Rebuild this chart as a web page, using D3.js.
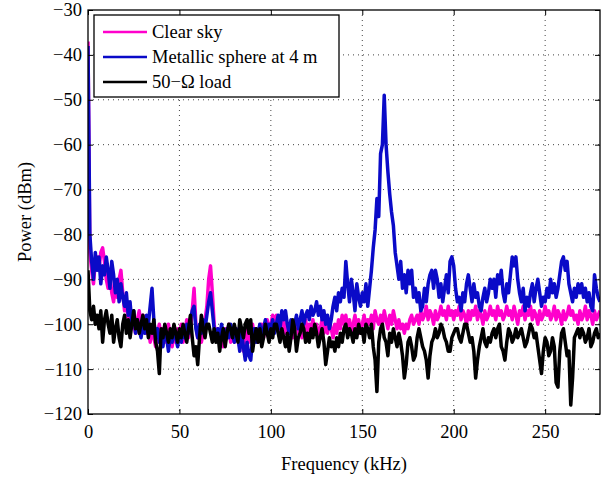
<!DOCTYPE html>
<html>
<head>
<meta charset="utf-8">
<script src="https://cdn.jsdelivr.net/npm/d3@7/dist/d3.min.js"></script>
<style>
  html, body { margin: 0; padding: 0; background: #fff; }
  svg { display: block; }
</style>
</head>
<body>
<svg id="chart" width="610" height="478"></svg>
<script>
// Spectrum samples, one value per kHz from 0 to 280 kHz (dBm)
const freqStep = 1;

const clearSky = [
  -37, -84, -88, -91, -86, -85, -88, -84, -83, -86,
  -90, -92, -89, -93, -95, -91, -94, -90, -88, -93,
  -97, -95, -99, -101, -98, -100, -102, -99, -97, -100,
  -98, -99, -102, -100, -104, -101, -103, -105, -102, -100,
  -103, -101, -104, -102, -100, -103, -105, -102, -104, -101,
  -103, -100, -104, -102, -99, -103, -101, -97, -92, -100,
  -103, -101, -104, -102, -99, -96, -90, -87, -93, -100,
  -103, -101, -104, -102, -105, -101, -103, -100, -104, -102,
  -104, -101, -103, -105, -102, -106, -103, -101, -104, -102,
  -100, -103, -101, -104, -102, -100, -103, -101, -99, -102,
  -100, -98, -101, -98, -100, -103, -101, -99, -102, -100,
  -102, -100, -103, -101, -99, -102, -100, -103, -101, -99,
  -102, -100, -101, -99, -102, -100, -103, -101, -99, -102,
  -100, -102, -99, -101, -103, -100, -102, -99, -101, -98,
  -100, -98, -101, -99, -102, -100, -98, -101, -99, -102,
  -100, -98, -101, -99, -100, -98, -101, -97, -99, -100,
  -98, -100, -97, -99, -101, -98, -100, -97, -99, -101,
  -99, -101, -100, -102, -100, -101, -99, -98, -100, -99,
  -98, -100, -97, -99, -98, -96, -99, -97, -98, -100,
  -97, -99, -98, -96, -98, -97, -99, -96, -98, -97,
  -99, -97, -98, -96, -99, -97, -98, -100, -97, -99,
  -97, -98, -96, -99, -97, -98, -100, -97, -99, -98,
  -96, -98, -97, -99, -96, -98, -97, -99, -98, -96,
  -98, -97, -99, -96, -98, -100, -97, -98, -96, -99,
  -97, -98, -96, -99, -97, -98, -100, -97, -99, -98,
  -96, -98, -97, -99, -98, -96, -99, -97, -98, -100,
  -97, -99, -98, -96, -98, -97, -99, -98, -100, -97,
  -99, -98, -96, -99, -97, -98, -100, -97, -99, -98,
  -97
];

const metallicSphere = [
  -38, -80, -86, -90, -84, -88, -85, -91, -87, -89,
  -85, -88, -92, -86, -89, -93, -90, -95, -91, -94,
  -96, -93, -98, -95, -100, -97, -102, -99, -101, -103,
  -100, -102, -98, -100, -96, -92, -99, -103, -101, -104,
  -102, -105, -101, -103, -106, -102, -104, -101, -103, -105,
  -102, -104, -101, -103, -100, -102, -99, -97, -96, -101,
  -103, -100, -102, -99, -101, -98, -95, -93, -97, -101,
  -103, -101, -104, -100, -102, -104, -101, -103, -100, -102,
  -104, -101, -103, -106, -102, -105, -108, -104, -107, -108,
  -103, -101, -104, -102, -100, -103, -101, -99, -102, -100,
  -101, -99, -102, -100, -98, -101, -97, -99, -97, -100,
  -102, -99, -101, -100, -98, -101, -99, -97, -100, -98,
  -97, -99, -96, -98, -97, -95, -98, -96, -99, -97,
  -100, -98, -101, -99, -96, -94, -97, -93, -95, -92,
  -94, -86, -91, -95, -90, -93, -97, -91, -94, -96,
  -93, -95, -91, -96, -92, -88, -83, -79, -72, -76,
  -62, -60, -49, -60, -66, -71, -75, -78, -84, -87,
  -90, -86, -92, -89, -93, -88, -91, -88, -94, -92,
  -95, -93, -97, -96, -92, -95, -91, -89, -88, -92,
  -88, -90, -94, -91, -95, -92, -89, -93, -86, -85,
  -87, -92, -95, -94, -97, -93, -95, -91, -89, -92,
  -95, -91, -94, -93, -96, -97, -94, -92, -95, -93,
  -90, -92, -90, -94, -89, -91, -88, -93, -95, -91,
  -93, -89, -85, -87, -85, -90, -93, -95, -92, -97,
  -94, -96, -93, -91, -95, -92, -90, -93, -96, -94,
  -95, -92, -94, -90, -93, -91, -94, -92, -89, -86,
  -85, -88, -86, -91, -93, -95, -92, -94, -91, -93,
  -91, -94, -92, -95, -93, -96, -97, -89, -92, -94,
  -95
];

const load50 = [
  -88, -97, -99, -96, -100, -98, -101, -97, -104, -99,
  -97, -100, -102, -98, -104, -101, -99, -103, -105, -100,
  -98, -102, -99, -103, -100, -97, -101, -99, -102, -100,
  -98, -101, -99, -103, -100, -102, -99, -104, -106, -111,
  -101, -103, -100, -102, -104, -101, -103, -100, -102, -104,
  -101, -103, -100, -102, -104, -101, -98, -103, -107, -105,
  -109, -103, -98, -101, -103, -100, -100, -102, -104, -101,
  -104, -102, -106, -103, -101, -105, -102, -100, -101, -103,
  -100, -102, -104, -99, -101, -103, -100, -99, -102, -99,
  -106, -103, -101, -104, -101, -105, -103, -100, -102, -104,
  -101, -103, -100, -100, -102, -104, -101, -103, -105, -102,
  -106, -103, -99, -101, -106, -103, -102, -100, -101, -104,
  -102, -104, -101, -103, -100, -102, -105, -103, -101, -104,
  -109, -106, -103, -105, -104, -106, -103, -105, -102, -104,
  -101, -100, -103, -101, -102, -104, -101, -103, -100, -102,
  -101, -104, -100, -101, -103, -100, -105, -108, -115, -104,
  -101, -100, -103, -104, -107, -102, -104, -101, -103, -105,
  -102, -104, -107, -112, -109, -104, -103, -105, -108, -107,
  -103, -101, -103, -105, -106, -108, -112, -107, -104, -103,
  -101, -103, -102, -100, -101, -103, -104, -106, -106, -103,
  -102, -101, -101, -103, -104, -102, -100, -100, -102, -104,
  -103, -106, -112, -108, -105, -103, -101, -104, -105, -103,
  -104, -102, -101, -103, -101, -100, -105, -106, -108, -104,
  -101, -102, -104, -103, -101, -103, -102, -101, -103, -105,
  -104, -102, -100, -101, -103, -102, -105, -108, -111, -106,
  -103, -104, -107, -106, -103, -105, -113, -114, -106, -102,
  -101, -104, -107, -106, -118, -112, -103, -102, -101, -103,
  -101, -102, -104, -103, -101, -105, -104, -102, -101, -103,
  -102
];

const xTicks = [0, 50, 100, 150, 200, 250];
const yTicks = [-120, -110, -100, -90, -80, -70, -60, -50, -40, -30];

const seriesNames = ["Clear sky", "Metallic sphere at 4 m", "50\u2212\u03A9 load"];
const seriesColors = ["#ff00cc", "#0a0ac8", "#000000"];
const seriesData = [clearSky, metallicSphere, load50];

const FONT = "Liberation Serif";
const FS = 18.5;

const margin = { left: 88, right: 10, top: 10, bottom: 64 };
const W = 610, H = 478;
const plotW = W - margin.left - margin.right;
const plotH = H - margin.top - margin.bottom;

const svg = d3.select("#chart");
const g = svg.append("g").attr("transform", `translate(${margin.left},${margin.top})`);

const x = d3.scaleLinear().domain([0, 280]).range([0, plotW]);
const y = d3.scaleLinear().domain([-120, -30]).range([plotH, 0]);

const fmt = v => (v < 0 ? "\u2212" + Math.abs(v) : String(v));

// dotted grid
g.append("g").selectAll("line").data(xTicks.filter(t => t > 0)).join("line")
  .attr("x1", d => x(d)).attr("x2", d => x(d)).attr("y1", 0).attr("y2", plotH)
  .attr("stroke", "#444").attr("stroke-width", 1).attr("stroke-dasharray", "1,4");
g.append("g").selectAll("line").data(yTicks.filter(t => t > -120 && t < -30)).join("line")
  .attr("x1", 0).attr("x2", plotW).attr("y1", d => y(d)).attr("y2", d => y(d))
  .attr("stroke", "#444").attr("stroke-width", 1).attr("stroke-dasharray", "1,4");

// series lines
const line = d3.line()
  .x((d, i) => x(i * freqStep))
  .y(d => y(d));

svg.append("defs").append("clipPath").attr("id", "plotclip")
  .append("rect").attr("x", 0).attr("y", 0).attr("width", plotW).attr("height", plotH);

const lines = g.append("g").attr("clip-path", "url(#plotclip)");
seriesData.forEach((data, k) => {
  lines.append("path")
    .datum(data)
    .attr("fill", "none")
    .attr("stroke", seriesColors[k])
    .attr("stroke-width", 3.5)
    .attr("stroke-linejoin", "round")
    .attr("d", line);
});

// axes with inward ticks on all four sides
const tickLen = 5;
const axBottom = d3.axisBottom(x).tickValues(xTicks).tickSize(-tickLen).tickPadding(11).tickFormat(fmt);
const axTop = d3.axisTop(x).tickValues(xTicks).tickSize(-tickLen).tickFormat("");
const axLeft = d3.axisLeft(y).tickValues(yTicks).tickSize(-tickLen).tickPadding(6).tickFormat(fmt);
const axRight = d3.axisRight(y).tickValues(yTicks).tickSize(-tickLen).tickFormat("");

function styleAxis(sel) {
  sel.attr("font-family", FONT).attr("font-size", FS);
  sel.select(".domain").remove();
  sel.selectAll(".tick line").attr("stroke", "#000").attr("stroke-width", 1);
  sel.selectAll(".tick text").attr("font-family", FONT).attr("font-size", FS).attr("fill", "#000");
}

g.append("g").attr("transform", `translate(0,${plotH})`).call(axBottom).call(styleAxis);
g.append("g").call(axTop).call(styleAxis);
g.append("g").call(axLeft).call(styleAxis);
g.append("g").attr("transform", `translate(${plotW},0)`).call(axRight).call(styleAxis);

// frame
g.append("rect").attr("x", 0).attr("y", 0).attr("width", plotW).attr("height", plotH)
  .attr("fill", "none").attr("stroke", "#000").attr("stroke-width", 1.3);

// axis titles
svg.append("text")
  .attr("x", margin.left + plotW / 2).attr("y", 470)
  .attr("text-anchor", "middle")
  .attr("font-family", FONT).attr("font-size", FS)
  .text("Frequency (kHz)");
svg.append("text")
  .attr("transform", `translate(31,${margin.top + plotH / 2}) rotate(-90)`)
  .attr("text-anchor", "middle")
  .attr("font-family", FONT).attr("font-size", FS)
  .text("Power (dBm)");

// legend
const leg = svg.append("g").attr("transform", "translate(94,15)");
leg.append("rect").attr("x", 0).attr("y", 0).attr("width", 245).attr("height", 82)
  .attr("fill", "#fff").attr("stroke", "#000").attr("stroke-width", 1.3);
seriesNames.forEach((name, k) => {
  const cy = 17 + k * 25;
  leg.append("line").attr("x1", 9).attr("x2", 53).attr("y1", cy).attr("y2", cy)
    .attr("stroke", seriesColors[k]).attr("stroke-width", 2.5);
  leg.append("text").attr("x", 58).attr("y", cy + 6)
    .attr("font-family", FONT).attr("font-size", FS)
    .text(name);
});
</script>
</body>
</html>
